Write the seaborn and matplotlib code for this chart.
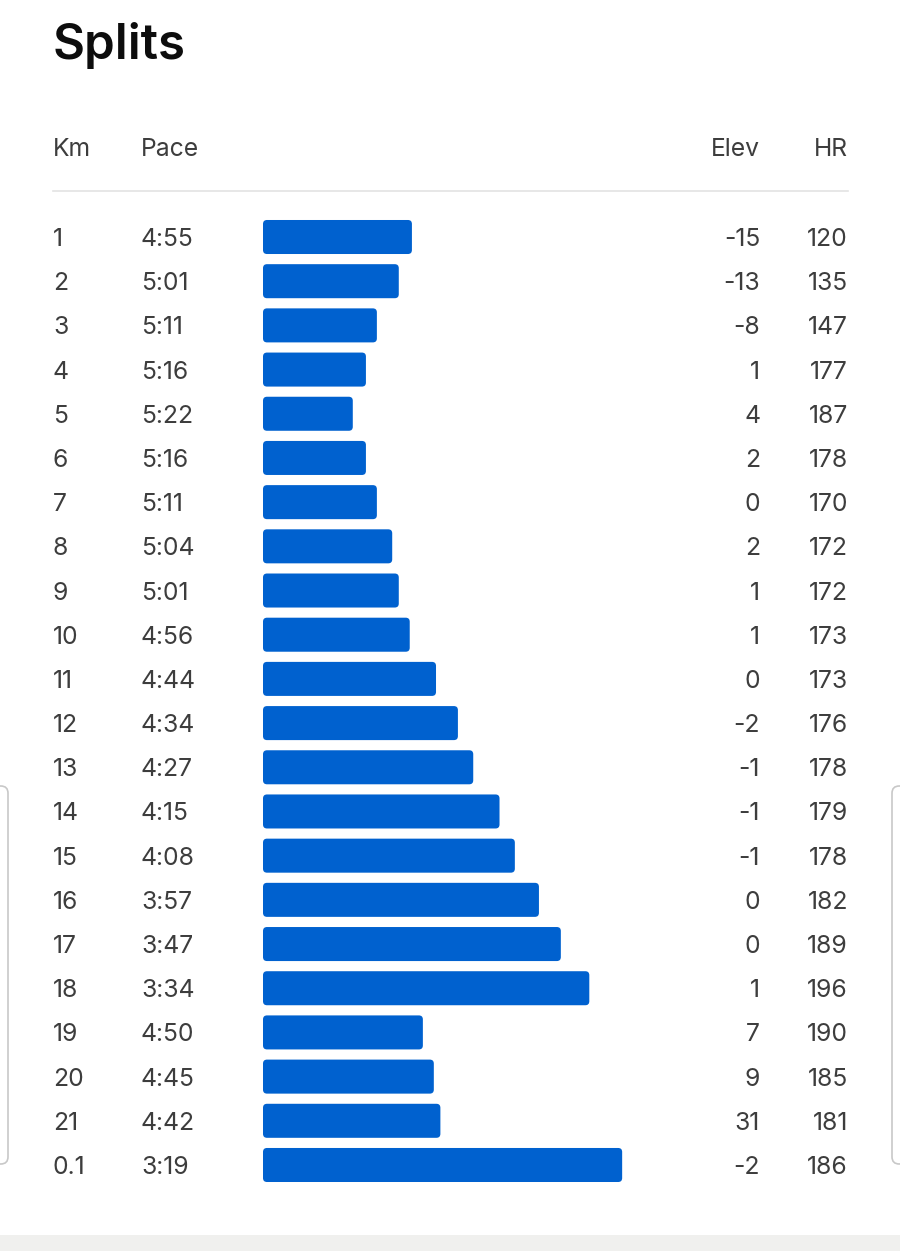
import matplotlib
matplotlib.use("Agg")
import matplotlib.pyplot as plt
import matplotlib.transforms as mtransforms
from matplotlib.patches import FancyBboxPatch, Rectangle
from matplotlib.lines import Line2D
import seaborn as sns
import pandas as pd

# ---- data ----
km = ["1", "2", "3", "4", "5", "6", "7", "8", "9", "10", "11", "12", "13", "14",
      "15", "16", "17", "18", "19", "20", "21", "0.1"]
pace = ["4:55", "5:01", "5:11", "5:16", "5:22", "5:16", "5:11", "5:04", "5:01", "4:56",
        "4:44", "4:34", "4:27", "4:15", "4:08", "3:57", "3:47", "3:34", "4:50", "4:45",
        "4:42", "3:19"]
elev = [-15, -13, -8, 1, 4, 2, 0, 2, 1, 1, 0, -2, -1, -1, -1, 0, 0, 1, 7, 9, 31, -2]
hr = [120, 135, 147, 177, 187, 178, 170, 172, 172, 173, 173, 176, 178, 179, 178, 182,
      189, 196, 190, 185, 181, 186]
headers = ["Km", "Pace", "Elev", "HR"]
title = "Splits"

# bar scale reference (slowest pace shown as zero-length bar), seconds
PACE_REF = 363


def to_sec(p):
    m, s = p.split(":")
    return int(m) * 60 + int(s)


df = pd.DataFrame({"km": km, "pace": pace, "elev": elev, "hr": hr})
df["pace_s"] = df["pace"].map(to_sec)
df["bar"] = PACE_REF - df["pace_s"]

# ---- figure ----
W, H = 900, 1251
fig = plt.figure(figsize=(W / 100, H / 100), dpi=100)
fig.patch.set_facecolor("white")

FONT = ["Inter", "DejaVu Sans"]
TXT = "#3d3d3d"
BLUE = "#0061cf"

row_h = 44.19
top_c = 237
n = len(km)
ax_top = top_c - row_h / 2
ax_bot = top_c + (n - 1) * row_h + row_h / 2
ax_left, ax_right = 263, 680
px_per_unit = 2.19
ax = fig.add_axes([ax_left / W, 1 - ax_bot / H, (ax_right - ax_left) / W, (ax_bot - ax_top) / H])

sns.barplot(data=df, x="bar", y="km", order=km, orient="h", color=BLUE,
            saturation=1, width=0.77, ax=ax)
ax.set_xlim(0, (ax_right - ax_left) / px_per_unit)
ax.set_ylim(n - 0.5, -0.5)
ax.axis("off")

# rounded corners for bars
y_unit_px = row_h
aspect = (1 / y_unit_px) / (1 / px_per_unit)
r = 4 / px_per_unit
for p in list(ax.patches):
    x0, y0 = p.get_x(), p.get_y()
    w, h = p.get_width(), p.get_height()
    fb = FancyBboxPatch((x0, y0), w, h, boxstyle=f"round,pad=0,rounding_size={r}",
                        mutation_aspect=aspect, facecolor=BLUE, edgecolor="none")
    ax.add_patch(fb)
    p.remove()

# row texts
trans = mtransforms.blended_transform_factory(fig.transFigure, ax.transData)
trans = mtransforms.offset_copy(trans, fig=fig, y=-9, units="dots")
fs = 17.8
for i in range(n):
    ax.text(53 / W, i, km[i], transform=trans, ha="left", va="baseline",
            fontsize=fs, color=TXT, family=FONT, clip_on=False)
    ax.text(141 / W, i, pace[i], transform=trans, ha="left", va="baseline",
            fontsize=fs, color=TXT, family=FONT, clip_on=False)
    ax.text(760 / W, i, str(elev[i]), transform=trans, ha="right", va="baseline",
            fontsize=fs, color=TXT, family=FONT, clip_on=False)
    ax.text(848 / W, i, str(hr[i]), transform=trans, ha="right", va="baseline",
            fontsize=fs, color=TXT, family=FONT, clip_on=False)

# headers
hy = 1 - 156 / H
fig.text(53 / W, hy, headers[0], ha="left", va="baseline", fontsize=fs, color=TXT, family=FONT)
fig.text(141 / W, hy, headers[1], ha="left", va="baseline", fontsize=fs, color=TXT, family=FONT)
fig.text(760 / W, hy, headers[2], ha="right", va="baseline", fontsize=fs, color=TXT, family=FONT)
fig.text(848 / W, hy, headers[3], ha="right", va="baseline", fontsize=fs, color=TXT, family=FONT)

# title
fig.text(53 / W, 1 - 59 / H, title, ha="left", va="baseline", fontsize=35.5,
         fontweight="semibold", color="#0d0d0d", family=FONT)

# divider
fig.add_artist(Line2D([53 / W, 848 / W], [1 - 191 / H, 1 - 191 / H],
                      color="#e3e3e3", lw=1.2, transform=fig.transFigure))

# bottom gray band
fig.add_artist(Rectangle((0, 0), 1, 16 / H, transform=fig.transFigure,
                         facecolor="#f0f0ee", edgecolor="none"))

# side card edges
for (x0, x1) in [(-60, 8), (892, 960)]:
    fig.add_artist(FancyBboxPatch((x0 / W, 1 - 1164 / H), (x1 - x0) / W, (1164 - 786) / H,
                                  boxstyle="round,pad=0,rounding_size=0.008",
                                  mutation_aspect=W / H,
                                  transform=fig.transFigure, facecolor="none",
                                  edgecolor="#c8c8c8", lw=1.2))

fig.savefig("out.png", dpi=100, facecolor="white")
